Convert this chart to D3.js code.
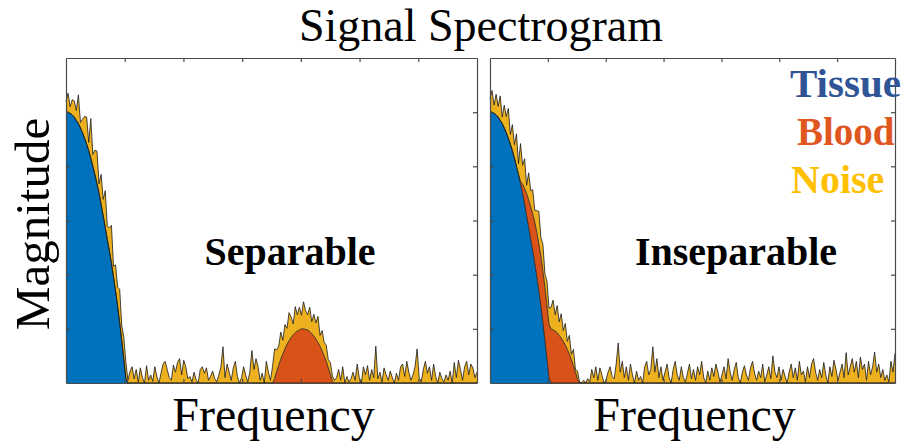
<!DOCTYPE html>
<html>
<head>
<meta charset="utf-8">
<script src="https://cdn.jsdelivr.net/npm/d3@7"></script>
<style>
  body { margin: 0; background: #fff; }
  text { font-family: "Liberation Serif", "Times New Roman", serif; }
</style>
</head>
<body>
<div id="chart"></div>
<script>
// frequency bins shared by both panels
const freqBins = d3.range(200);

// tissue spectrum, bins 0..29 (zero after)
const tissueLevels = [5.00, 5.00, 4.98, 4.95, 4.91, 4.85, 4.79, 4.71, 4.62, 4.52,
  4.41, 4.29, 4.15, 4.00, 3.85, 3.68, 3.50, 3.30, 3.09, 2.87,
  2.65, 2.44, 2.21, 1.96, 1.70, 1.42, 1.11, 0.78, 0.44, 0.08];

// blood bump, left panel starts at bin 100
const bloodLeftStart = 100;
const bloodLeftLevels = [0.00, 0.08, 0.21, 0.33, 0.44, 0.54, 0.63, 0.71, 0.78, 0.84,
  0.89, 0.93, 0.96, 0.98, 1.00, 1.00, 0.99, 0.98, 0.95, 0.91,
  0.87, 0.81, 0.75, 0.68, 0.59, 0.50, 0.40, 0.28, 0.16, 0.03, 0.00];

// blood bump, right panel starts at bin 14 (overlaps tissue)
const bloodRightStart = 14;
const bloodRightLevels = [0.00, 0.04, 0.17, 0.29, 0.41, 0.51, 0.60, 0.68, 0.76, 0.82,
  0.87, 0.92, 0.95, 0.98, 0.99, 1.00, 1.00, 0.98, 0.96, 0.93,
  0.88, 0.83, 0.77, 0.70, 0.62, 0.53, 0.43, 0.32, 0.20, 0.07, 0.00];

const noiseLeft = [
  0.20, 0.35, 0.12, 0.28, 0.30, 0.18, 0.53, 0.10, 0.25, 0.40, 0.50, 0.15, 0.73, 0.22, 0.45, 0.60, 0.18, 0.55, 0.30, 0.68,
  0.25, 0.42, 0.70, 0.20, 0.48, 0.35, 0.62, 0.28, 0.40, 0.30, 0.05, 0.22, 0.30, 0.08, 0.25, 0.02, 0.28, 0.10, 0.00, 0.32,
  0.05, 0.15, 0.03, 0.30, 0.12, 0.00, 0.18, 0.35, 0.40, 0.25, 0.10, 0.05, 0.33, 0.20, 0.38, 0.45, 0.15, 0.42, 0.30, 0.08,
  0.12, 0.02, 0.20, 0.06, 0.00, 0.25, 0.30, 0.18, 0.28, 0.05, 0.12, 0.22, 0.08, 0.02, 0.15, 0.30, 0.67, 0.10, 0.35, 0.20,
  0.05, 0.28, 0.40, 0.12, 0.00, 0.10, 0.30, 0.15, 0.02, 0.20, 0.60, 0.25, 0.45, 0.30, 0.05, 0.18, 0.00, 0.40, 0.20, 0.05,
  0.30, 0.55, 0.40, 0.35, 0.50, 0.25, 0.45, 0.30, 0.52, 0.38, 0.20, 0.48, 0.30, 0.42, 0.25, 0.50, 0.35, 0.28, 0.45, 0.22,
  0.40, 0.30, 0.48, 0.20, 0.38, 0.25, 0.30, 0.15, 0.22, 0.10, 0.05, 0.10, 0.25, 0.05, 0.30, 0.00, 0.12, 0.02, 0.08, 0.20,
  0.05, 0.35, 0.10, 0.00, 0.30, 0.15, 0.32, 0.05, 0.25, 0.10, 0.68, 0.08, 0.20, 0.02, 0.28, 0.15, 0.05, 0.22, 0.10, 0.00,
  0.18, 0.05, 0.30, 0.35, 0.12, 0.40, 0.20, 0.05, 0.15, 0.30, 0.63, 0.10, 0.02, 0.25, 0.40, 0.18, 0.30, 0.05, 0.35, 0.12,
  0.00, 0.20, 0.08, 0.02, 0.15, 0.05, 0.22, 0.00, 0.38, 0.10, 0.42, 0.25, 0.05, 0.30, 0.40, 0.15, 0.35, 0.28, 0.10, 0.20];

const noiseRight = [
  0.25, 0.40, 0.15, 0.38, 0.20, 0.45, 0.12, 0.42, 0.30, 0.55, 0.18, 0.48, 0.25, 0.60, 0.20, 0.70, 0.35, 0.55, 0.15, 0.50,
  0.30, 0.45, 0.22, 0.40, 0.60, 0.35, 0.50, 0.25, 0.45, 0.30, 0.40, 0.55, 0.30, 0.50, 0.25, 0.45, 0.20, 0.40, 0.15, 0.35,
  0.10, 0.30, 0.05, 0.15, 0.02, 0.00, 0.05, 0.00, 0.08, 0.02, 0.25, 0.10, 0.30, 0.05, 0.28, 0.15, 0.00, 0.05, 0.20, 0.30,
  0.12, 0.08, 0.35, 0.74, 0.20, 0.40, 0.10, 0.30, 0.05, 0.35, 0.15, 0.00, 0.22, 0.05, 0.12, 0.00, 0.30, 0.40, 0.15, 0.25,
  0.67, 0.20, 0.45, 0.10, 0.30, 0.05, 0.20, 0.35, 0.10, 0.00, 0.25, 0.40, 0.15, 0.05, 0.30, 0.10, 0.02, 0.18, 0.35, 0.08,
  0.25, 0.05, 0.30, 0.15, 0.40, 0.10, 0.00, 0.22, 0.05, 0.28, 0.12, 0.35, 0.20, 0.02, 0.15, 0.30, 0.08, 0.45, 0.20, 0.05,
  0.25, 0.38, 0.10, 0.00, 0.20, 0.32, 0.15, 0.05, 0.28, 0.40, 0.18, 0.05, 0.22, 0.10, 0.35, 0.02, 0.15, 0.30, 0.08, 0.50,
  0.20, 0.10, 0.30, 0.05, 0.25, 0.12, 0.00, 0.20, 0.35, 0.10, 0.28, 0.05, 0.40, 0.15, 0.22, 0.02, 0.30, 0.10, 0.35, 0.45,
  0.20, 0.05, 0.25, 0.10, 0.38, 0.15, 0.00, 0.30, 0.12, 0.42, 0.25, 0.05, 0.20, 0.35, 0.10, 0.56, 0.15, 0.30, 0.45, 0.20,
  0.40, 0.10, 0.48, 0.25, 0.35, 0.05, 0.40, 0.15, 0.30, 0.57, 0.20, 0.35, 0.10, 0.25, 0.05, 0.15, 0.02, 0.40, 0.20, 0.55];

const seriesKeys = ["tissue", "blood", "noise"];
const seriesColors = { tissue: "#0072BD", blood: "#D95319", noise: "#EDB120" };
const legendLabels = ["Tissue", "Blood", "Noise"];
const legendColors = ["#2F5597", "#E0561F", "#FFC000"];
const yTickCount = 6;
const xTickCount = 7;

const width = 901, height = 444;
const plotTop = 58, plotBottom = 383;

const panels = [
  { x0: 66, x1: 477, noise: noiseLeft, bloodStart: bloodLeftStart, blood: bloodLeftLevels, label: "Separable", labelX: 290 },
  { x0: 490, x1: 895, noise: noiseRight, bloodStart: bloodRightStart, blood: bloodRightLevels, label: "Inseparable", labelX: 736 },
];

const svg = d3.select("#chart").append("svg")
  .attr("width", width).attr("height", height)
  .style("background", "#fff");

const y = d3.scaleLinear().domain([0, yTickCount]).range([plotBottom, plotTop]);

panels.forEach((p) => {
  const x = d3.scaleLinear().domain([0, freqBins.length - 1]).range([p.x0, p.x1]);

  const rows = freqBins.map((f) => {
    const bi = f - p.bloodStart;
    return {
      f: f,
      tissue: f < tissueLevels.length ? tissueLevels[f] : 0,
      blood: bi >= 0 && bi < p.blood.length ? p.blood[bi] : 0,
      noise: p.noise[f],
    };
  });

  const stacked = d3.stack().keys(seriesKeys)(rows);

  const area = d3.area()
    .x((d) => x(d.data.f))
    .y0((d) => y(d[0]))
    .y1((d) => y(d[1]));

  const topLine = d3.line()
    .x((d) => x(d.data.f))
    .y((d) => y(d[1]));

  const g = svg.append("g");

  g.selectAll("path.fill")
    .data(stacked)
    .enter()
    .append("path")
    .attr("class", "fill")
    .attr("d", area)
    .attr("fill", (d) => seriesColors[d.key]);

  // black edge on top of each stacked layer
  g.selectAll("path.edge")
    .data(stacked.slice().reverse())
    .enter()
    .append("path")
    .attr("class", "edge")
    .attr("d", topLine)
    .attr("fill", "none")
    .attr("stroke", "#1a1a1a")
    .attr("stroke-width", 0.8)
    .attr("stroke-linejoin", "round");

  // box with inward ticks on all four sides
  const xTicks = d3.range(1, xTickCount).map((i) => (i * (freqBins.length - 1)) / xTickCount);
  const yTicks = d3.range(1, yTickCount);

  const axes = [
    d3.axisBottom(x).tickValues(xTicks).tickSizeInner(-4).tickSizeOuter(0).tickFormat(""),
    d3.axisTop(x).tickValues(xTicks).tickSizeInner(-4).tickSizeOuter(0).tickFormat(""),
    d3.axisLeft(y).tickValues(yTicks).tickSizeInner(-4).tickSizeOuter(0).tickFormat(""),
    d3.axisRight(y).tickValues(yTicks).tickSizeInner(-4).tickSizeOuter(0).tickFormat(""),
  ];
  const shifts = [[0, plotBottom], [0, plotTop], [p.x0, 0], [p.x1, 0]];
  axes.forEach((ax, i) => {
    const a = g.append("g")
      .attr("transform", `translate(${shifts[i][0]},${shifts[i][1]})`)
      .call(ax);
    a.selectAll("path, line").attr("stroke", "#4a4a4a").attr("stroke-width", 1.2);
  });

  g.append("text")
    .attr("x", p.labelX)
    .attr("y", 265)
    .attr("text-anchor", "middle")
    .attr("font-weight", "bold")
    .attr("font-size", 40)
    .text(p.label);

  g.append("text")
    .attr("x", (p.x0 + p.x1) / 2 + 2)
    .attr("y", 431)
    .attr("text-anchor", "middle")
    .attr("font-size", 48)
    .text("Frequency");
});

svg.append("text")
  .attr("x", 481)
  .attr("y", 41)
  .attr("text-anchor", "middle")
  .attr("font-size", 46)
  .text("Signal Spectrogram");

svg.append("text")
  .attr("transform", "translate(49,224) rotate(-90)")
  .attr("text-anchor", "middle")
  .attr("font-size", 49)
  .text("Magnitude");

// legend
const legendX = [790, 797, 791];
const legendY = [97, 145, 193];
const legendSize = [41, 39, 40];
svg.selectAll("text.legend")
  .data(legendLabels)
  .enter()
  .append("text")
  .attr("class", "legend")
  .attr("x", (d, i) => legendX[i])
  .attr("y", (d, i) => legendY[i])
  .attr("font-weight", "bold")
  .attr("font-size", (d, i) => legendSize[i])
  .attr("fill", (d, i) => legendColors[i])
  .text((d) => d);
</script>
</body>
</html>
